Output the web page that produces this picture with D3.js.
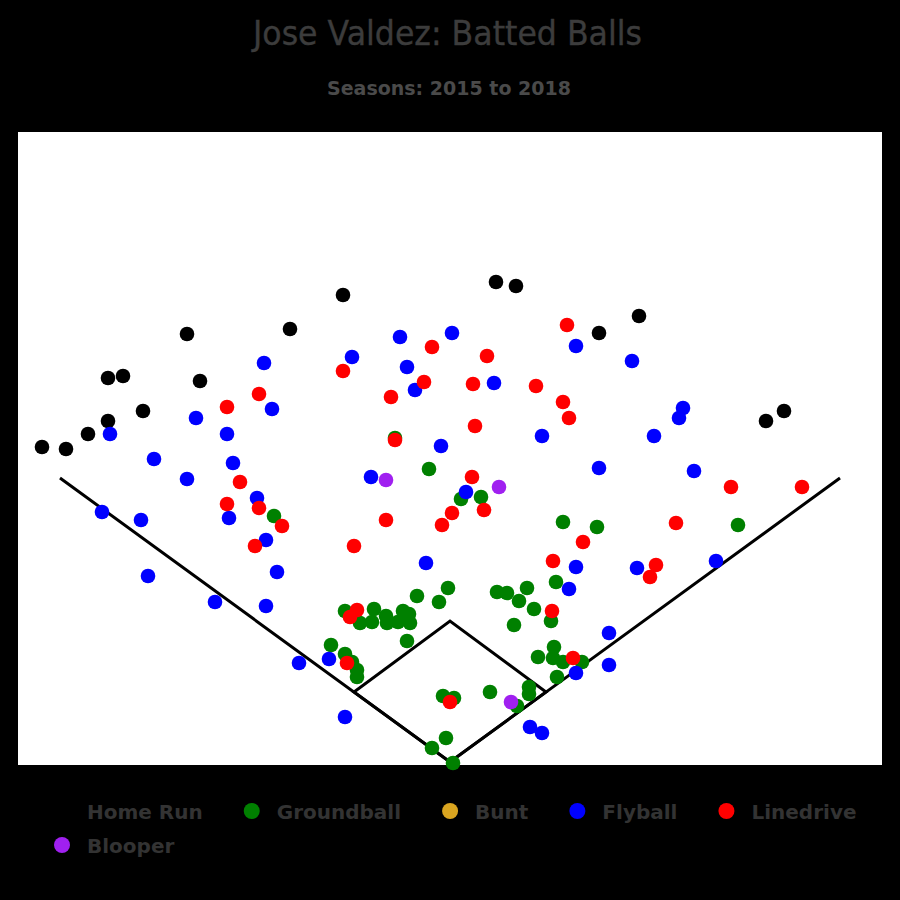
<!DOCTYPE html>
<html><head><meta charset="utf-8">
<script src="https://cdn.jsdelivr.net/npm/d3@7"></script>
<style>html,body{margin:0;padding:0;background:#000;}</style>
</head><body>
<svg id="chart" width="900" height="900"></svg>
<script>
const title = "Jose Valdez: Batted Balls";
const subtitle = "Seasons: 2015 to 2018";
const categories = ["Home Run","Groundball","Bunt","Flyball","Linedrive","Blooper"];
const colors = ["#000000","#008000","#DAA520","#0000FF","#FF0000","#A020F0"];

// hit locations: [x, y] relative to home plate (x: toward right field, y: toward centerfield)
const homeRun = [[-408,315],[-384,313],[-362,328],[-342,341],[-342,384],[-327,386],[-307,351],[-263,428],[-250,381],[-160,433],[-107,467],[46,480],[66,476],[149,429],[189,446],[316,341],[334,351]];
const groundball = [[-176,246],[-55,324],[-21,293],[11,263],[31,265],[113,240],[147,235],[288,237],[-2,174],[-33,166],[-11,160],[47,170],[57,169],[77,174],[69,161],[84,153],[106,180],[101,141],[64,137],[-105,151],[-90,139],[-78,140],[-76,153],[-64,146],[-63,139],[-52,140],[-47,151],[-41,148],[-40,139],[-43,121],[-119,117],[-105,108],[-98,100],[-93,92],[-93,85],[-7,66],[4,64],[40,70],[79,75],[79,68],[67,56],[-4,24],[-18,14],[3,-1],[88,105],[104,115],[103,104],[113,100],[132,100],[107,85]];
const bunt = [];
const flyball = [[-186,399],[-178,353],[-254,344],[-223,328],[-340,328],[-296,303],[-217,299],[-263,283],[-193,264],[-348,250],[-309,242],[-221,244],[-184,222],[-173,190],[-302,186],[-235,160],[-184,156],[-151,99],[-50,425],[2,429],[-98,405],[-43,395],[-35,372],[44,379],[-9,316],[92,326],[126,416],[182,401],[233,354],[229,344],[204,326],[149,294],[244,291],[-79,285],[16,270],[-24,199],[126,195],[119,173],[187,194],[266,201],[159,129],[159,97],[126,89],[-121,103],[-105,45],[80,35],[92,29]];
const linedrive = [[-191,368],[-223,355],[-210,280],[-223,258],[-191,254],[-168,236],[-195,216],[-18,415],[117,437],[37,406],[-107,391],[-26,380],[23,378],[86,376],[-59,365],[113,360],[119,344],[25,336],[-55,322],[22,285],[2,249],[-8,237],[34,252],[-64,242],[-96,216],[281,275],[352,275],[226,239],[133,220],[206,197],[200,185],[103,201],[102,151],[-93,152],[-100,145],[-103,99],[0,60],[123,104]];
const blooper = [[-64,282],[49,275],[61,60]];
const seriesData = [homeRun, groundball, bunt, flyball, linedrive, blooper];

// field outline
const foulLines = [[-390,284],[0,0],[390,284]];
const diamond = [[0,0],[96,70],[0,141],[-96,70],[0,0]];

const svg = d3.select("#chart");
const W = 900, H = 900;
const plot = {left:18, right:882, top:132, bottom:765};

svg.append("rect").attr("width",W).attr("height",H).attr("fill","#000");
svg.append("rect").attr("x",plot.left).attr("y",plot.top)
  .attr("width",plot.right-plot.left).attr("height",plot.bottom-plot.top).attr("fill","#fff");

const x = d3.scaleLinear().domain([-432,432]).range([plot.left,plot.right]);
const y = d3.scaleLinear().domain([-3,630]).range([plot.bottom,plot.top]);

svg.append("text").attr("x",447.5).attr("y",45).attr("text-anchor","middle")
  .attr("font-family","DejaVu Sans").attr("font-size",34).attr("fill","#3c3c3c")
  .attr("stroke","#3c3c3c").attr("stroke-width",0.4)
  .attr("textLength",389).attr("lengthAdjust","spacingAndGlyphs").text(title);
svg.append("text").attr("x",449).attr("y",95).attr("text-anchor","middle")
  .attr("font-family","DejaVu Sans").attr("font-weight","bold").attr("font-size",19).attr("fill","#4a4a4a")
  .text(subtitle);

const line = d3.line().x(d=>x(d[0])).y(d=>y(d[1]));
const g = svg.append("g");
g.append("path").attr("d",line(foulLines)).attr("fill","none").attr("stroke","#000").attr("stroke-width",3);
g.append("path").attr("d",line(diamond)).attr("fill","none").attr("stroke","#000").attr("stroke-width",3);

const pts = svg.append("g");
seriesData.forEach((arr,i)=>{
  pts.selectAll(null).data(arr).enter().append("circle")
    .attr("cx",d=>x(d[0])).attr("cy",d=>y(d[1])).attr("r",7.3)
    .attr("fill",colors[i]);
});

// legend
const leg = svg.append("g");
let lx = 62, ly = 811;
categories.forEach((c,i)=>{
  const item = leg.append("g");
  item.append("circle").attr("cx",0).attr("cy",0).attr("r",8).attr("fill",colors[i]);
  const t = item.append("text").attr("x",25).attr("y",8)
    .attr("font-family","DejaVu Sans").attr("font-weight","bold").attr("font-size",20)
    .attr("fill","#333").text(c);
  const w = t.node().getComputedTextLength();
  if (lx + 25 + w > 880) { lx = 62; ly += 34; }
  item.attr("transform",`translate(${lx},${ly})`);
  lx += 25 + w + 49;
});
</script>
</body></html>
